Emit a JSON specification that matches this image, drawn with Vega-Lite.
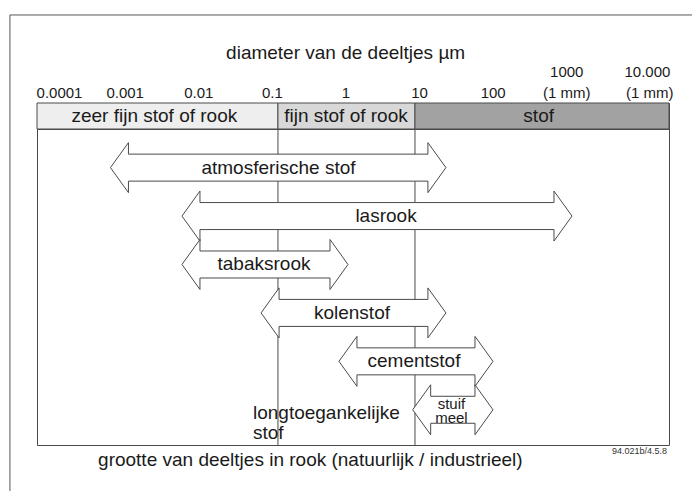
{
  "$schema": "https://vega.github.io/schema/vega-lite/v6.json",
  "autosize": {"type": "pad"},
  "padding": {"left": 8, "top": 13, "right": 0, "bottom": 0},
  "background": "white",
  "spacing": 0,
  "bounds": "flush",
  "config": {
    "view": {"stroke": "#4a4a4a", "strokeWidth": 1},
    "text": {"font": "Liberation Sans", "color": "#1a1a1a"},
    "axis": {"titleFont": "Liberation Sans", "titleFontWeight": "normal", "titleColor": "#1a1a1a"}
  },
  "datasets": {
    "bands": [
      {"name": "zeer fijn stof of rook", "lo": 0.0000634, "hi": 0.1191, "mid": 0.00249},
      {"name": "fijn stof of rook", "lo": 0.1191, "hi": 8.66, "mid": 1.0},
      {"name": "stof", "lo": 8.66, "hi": 24480, "mid": 415}
    ],
    "ticks": [
      {"v": 0.0001, "label": "0.0001", "top": ""},
      {"v": 0.001, "label": "0.001", "top": ""},
      {"v": 0.01, "label": "0.01", "top": ""},
      {"v": 0.1, "label": "0.1", "top": ""},
      {"v": 1, "label": "1", "top": ""},
      {"v": 10, "label": "10", "top": ""},
      {"v": 100, "label": "100", "top": ""},
      {"v": 1000, "label": "(1 mm)", "top": "1000"},
      {"v": 10000, "label": "(1 mm)", "top": "10.000"}
    ],
    "arrows": [
      {"name": "atmosferische stof", "row": 1, "lo": 0.000631, "hi": 22.8, "mid": 0.121},
      {"name": "lasrook", "row": 2, "lo": 0.00591, "hi": 1177, "mid": 3.5},
      {"name": "tabaksrook", "row": 3, "lo": 0.00591, "hi": 1.065, "mid": 0.0769},
      {"name": "kolenstof", "row": 4, "lo": 0.0702, "hi": 22.8, "mid": 1.206},
      {"name": "cementstof", "row": 5, "lo": 0.803, "hi": 99.4, "mid": 8.39},
      {"name": "stuif\nmeel", "row": 6, "lo": 8.06, "hi": 99.4, "mid": 27.1}
    ],
    "limits": [
      {"v": 0.1191, "note": "longtoegankelijke\nstof"},
      {"v": 8.66, "note": ""}
    ],
    "titles": [
      {"text": "diameter van de deeltjes µm", "v": 0.989},
      {"text": "grootte van deeltjes in rook (natuurlijk / industrieel)", "v": 0.328}
    ],
    "frame": [
      {"x0": 0.0000272, "x1": 60000, "y0": -2.152, "y1": 7.8, "code": "94.021b/4.5.8", "xr": 24480, "yb": 6.7273}
    ]
  },
  "vconcat": [
    {
      "width": 632,
      "height": 26,
      "layer": [
        {
          "data": {"name": "bands"},
          "mark": {"type": "rect", "stroke": "#4a4a4a", "strokeWidth": 1},
          "encoding": {
            "x": {"field": "lo", "type": "quantitative", "scale": {"type": "log", "domain": [0.0000634, 24480], "nice": false}, "axis": null},
            "x2": {"field": "hi"},
            "fill": {"field": "name", "type": "nominal",
              "scale": {"domain": ["zeer fijn stof of rook", "fijn stof of rook", "stof"], "range": ["#eeeeee", "#d8d8d8", "#a2a2a2"]},
              "legend": null}
          }
        },
        {
          "data": {"name": "bands"},
          "mark": {"type": "text", "fontSize": 19, "baseline": "middle", "align": "center"},
          "encoding": {
            "x": {"field": "mid", "type": "quantitative", "scale": {"type": "log", "domain": [0.0000634, 24480], "nice": false}, "axis": null},
            "text": {"field": "name"}
          }
        },
        {
          "data": {"name": "titles"},
          "transform": [{"filter": "datum.v > 0.5"}],
          "mark": {"type": "text", "fontSize": 19, "baseline": "alphabetic", "align": "center", "dy": -57},
          "encoding": {
            "x": {"field": "v", "type": "quantitative", "scale": {"type": "log", "domain": [0.0000634, 24480], "nice": false}, "axis": null},
            "text": {"field": "text"}
          }
        },
        {
          "data": {"name": "ticks"},
          "transform": [{"filter": "datum.v > 0.0005 && datum.v < 5000"}],
          "mark": {"type": "text", "fontSize": 15, "baseline": "alphabetic", "align": "center", "dy": -18},
          "encoding": {
            "x": {"field": "v", "type": "quantitative", "scale": {"type": "log", "domain": [0.0000634, 24480], "nice": false}, "axis": null},
            "text": {"field": "label"}
          }
        },
        {
          "data": {"name": "ticks"},
          "transform": [{"filter": "datum.top != '' && datum.v < 5000"}],
          "mark": {"type": "text", "fontSize": 15, "baseline": "alphabetic", "align": "center", "dy": -39},
          "encoding": {
            "x": {"field": "v", "type": "quantitative", "scale": {"type": "log", "domain": [0.0000634, 24480], "nice": false}, "axis": null},
            "text": {"field": "top"}
          }
        },
        {
          "data": {"name": "ticks"},
          "transform": [{"filter": "datum.v < 0.0005"}],
          "mark": {"type": "text", "fontSize": 15, "baseline": "alphabetic", "align": "left", "dy": -18, "dx": -15},
          "encoding": {
            "x": {"field": "v", "type": "quantitative", "scale": {"type": "log", "domain": [0.0000634, 24480], "nice": false}, "axis": null},
            "text": {"field": "label"}
          }
        },
        {
          "data": {"name": "ticks"},
          "transform": [{"filter": "datum.v > 5000"}],
          "mark": {"type": "text", "fontSize": 15, "baseline": "alphabetic", "align": "right", "dy": -18, "dx": 33},
          "encoding": {
            "x": {"field": "v", "type": "quantitative", "scale": {"type": "log", "domain": [0.0000634, 24480], "nice": false}, "axis": null},
            "text": {"field": "label"}
          }
        },
        {
          "data": {"name": "ticks"},
          "transform": [{"filter": "datum.v > 5000"}],
          "mark": {"type": "text", "fontSize": 15, "baseline": "alphabetic", "align": "right", "dy": -39, "dx": 30},
          "encoding": {
            "x": {"field": "v", "type": "quantitative", "scale": {"type": "log", "domain": [0.0000634, 24480], "nice": false}, "axis": null},
            "text": {"field": "top"}
          }
        }
      ]
    },
    {
      "width": 632,
      "height": 316,
      "layer": [
        {
          "data": {"name": "limits"},
          "mark": {"type": "rule", "color": "#4a4a4a", "strokeWidth": 1},
          "encoding": {
            "x": {"field": "v", "type": "quantitative", "scale": {"type": "log", "domain": [0.0000634, 24480], "nice": false}, "axis": null}
          }
        },
        {
          "data": {"name": "arrows"},
          "mark": {"type": "rect", "fill": "white", "stroke": "#4a4a4a", "strokeWidth": 1, "xOffset": 15, "x2Offset": -15, "yOffset": -13.5, "y2Offset": 13.5},
          "encoding": {
            "x": {"field": "lo", "type": "quantitative", "scale": {"type": "log", "domain": [0.0000634, 24480], "nice": false}, "axis": null},
            "x2": {"field": "hi"},
            "y": {"field": "row", "type": "quantitative", "scale": {"domain": [0.2024, 6.7273], "reverse": true, "nice": false, "zero": false}, "axis": null},
            "y2": {"field": "row"}
          }
        },
        {
          "data": {"name": "arrows"},
          "mark": {"type": "point", "shape": "M0.72,-0.54L0.72,-1L0,0L0.72,1L0.72,0.54", "size": 2500, "filled": true, "fill": "white", "stroke": "#4a4a4a", "strokeWidth": 1, "opacity": 1},
          "encoding": {
            "x": {"field": "lo", "type": "quantitative", "scale": {"type": "log", "domain": [0.0000634, 24480], "nice": false}, "axis": null},
            "y": {"field": "row", "type": "quantitative", "scale": {"domain": [0.2024, 6.7273], "reverse": true, "nice": false, "zero": false}, "axis": null}
          }
        },
        {
          "data": {"name": "arrows"},
          "mark": {"type": "point", "shape": "M-0.72,-0.54L-0.72,-1L0,0L-0.72,1L-0.72,0.54", "size": 2500, "filled": true, "fill": "white", "stroke": "#4a4a4a", "strokeWidth": 1, "opacity": 1},
          "encoding": {
            "x": {"field": "hi", "type": "quantitative", "scale": {"type": "log", "domain": [0.0000634, 24480], "nice": false}, "axis": null},
            "y": {"field": "row", "type": "quantitative", "scale": {"domain": [0.2024, 6.7273], "reverse": true, "nice": false, "zero": false}, "axis": null}
          }
        },
        {
          "data": {"name": "arrows"},
          "transform": [{"filter": "datum.row < 6"}],
          "mark": {"type": "text", "fontSize": 19, "baseline": "middle", "align": "center"},
          "encoding": {
            "x": {"field": "mid", "type": "quantitative", "scale": {"type": "log", "domain": [0.0000634, 24480], "nice": false}, "axis": null},
            "y": {"field": "row", "type": "quantitative", "scale": {"domain": [0.2024, 6.7273], "reverse": true, "nice": false, "zero": false}, "axis": null},
            "text": {"field": "name"}
          }
        },
        {
          "data": {"name": "arrows"},
          "transform": [{"filter": "datum.row == 6"}],
          "mark": {"type": "text", "fontSize": 15, "baseline": "alphabetic", "align": "center", "lineBreak": "\n", "lineHeight": 14, "dy": -1},
          "encoding": {
            "x": {"field": "mid", "type": "quantitative", "scale": {"type": "log", "domain": [0.0000634, 24480], "nice": false}, "axis": null},
            "y": {"field": "row", "type": "quantitative", "scale": {"domain": [0.2024, 6.7273], "reverse": true, "nice": false, "zero": false}, "axis": null},
            "text": {"field": "name"}
          }
        },
        {
          "data": {"name": "limits"},
          "transform": [{"filter": "datum.note != ''"}],
          "mark": {"type": "text", "fontSize": 19, "baseline": "alphabetic", "align": "left", "lineBreak": "\n", "lineHeight": 19.5, "dx": -25, "dy": -26},
          "encoding": {
            "x": {"field": "v", "type": "quantitative", "scale": {"type": "log", "domain": [0.0000634, 24480], "nice": false}, "axis": null},
            "y": {"datum": 6.7273, "type": "quantitative", "scale": {"domain": [0.2024, 6.7273], "reverse": true, "nice": false, "zero": false}, "axis": null},
            "text": {"field": "note"}
          }
        },
        {
          "data": {"name": "titles"},
          "transform": [{"filter": "datum.v < 0.5"}],
          "mark": {"type": "text", "fontSize": 19, "baseline": "alphabetic", "align": "center", "dy": 21},
          "encoding": {
            "x": {"field": "v", "type": "quantitative", "scale": {"type": "log", "domain": [0.0000634, 24480], "nice": false}, "axis": null},
            "y": {"datum": 6.7273, "type": "quantitative", "scale": {"domain": [0.2024, 6.7273], "reverse": true, "nice": false, "zero": false}, "axis": null},
            "text": {"field": "text"}
          }
        },
        {
          "data": {"name": "frame"},
          "mark": {"type": "rule", "color": "#555555", "strokeWidth": 1},
          "encoding": {
            "x": {"field": "x0", "type": "quantitative", "scale": {"type": "log", "domain": [0.0000634, 24480], "nice": false}, "axis": null},
            "y": {"field": "y0", "type": "quantitative", "scale": {"domain": [0.2024, 6.7273], "reverse": true, "nice": false, "zero": false}, "axis": null},
            "y2": {"field": "y1"}
          }
        },
        {
          "data": {"name": "frame"},
          "mark": {"type": "rule", "color": "#555555", "strokeWidth": 1},
          "encoding": {
            "x": {"field": "x0", "type": "quantitative", "scale": {"type": "log", "domain": [0.0000634, 24480], "nice": false}, "axis": null},
            "x2": {"field": "x1"},
            "y": {"field": "y0", "type": "quantitative", "scale": {"domain": [0.2024, 6.7273], "reverse": true, "nice": false, "zero": false}, "axis": null}
          }
        },
        {
          "data": {"name": "frame"},
          "mark": {"type": "text", "fontSize": 9, "baseline": "alphabetic", "align": "right", "dx": -2, "dy": 9, "color": "#333333"},
          "encoding": {
            "x": {"field": "xr", "type": "quantitative", "scale": {"type": "log", "domain": [0.0000634, 24480], "nice": false}, "axis": null},
            "y": {"field": "yb", "type": "quantitative", "scale": {"domain": [0.2024, 6.7273], "reverse": true, "nice": false, "zero": false}, "axis": null},
            "text": {"field": "code"}
          }
        }
      ]
    }
  ]
}
